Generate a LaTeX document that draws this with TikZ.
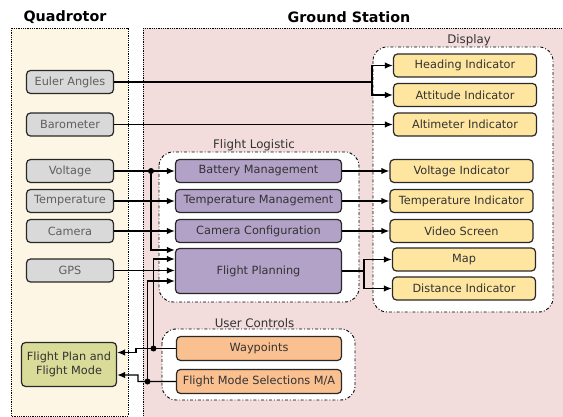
\documentclass[tikz,border=0pt]{standalone}
\usepackage{fontspec}
\setmainfont{DejaVu Sans}
\usetikzlibrary{arrows.meta,positioning,calc}

\definecolor{quadbg}{RGB}{253,246,229}
\definecolor{gsbg}{RGB}{242,220,220}
\definecolor{sensorgray}{RGB}{217,217,217}
\definecolor{logpurple}{RGB}{179,162,199}
\definecolor{dispyellow}{RGB}{255,230,160}
\definecolor{ctrlorange}{RGB}{250,192,144}
\definecolor{planolive}{RGB}{217,219,152}
\definecolor{edgegray}{RGB}{40,40,40}
\definecolor{textdark}{RGB}{50,50,50}
\definecolor{sensortext}{RGB}{95,95,95}

\begin{document}
\begin{tikzpicture}[x=1pt,y=-1pt,>={Latex[length=8pt,width=6.5pt]},
    box/.style={draw=edgegray,line width=1.2pt,rounded corners=4pt,minimum height=23pt,inner sep=2pt,font=\fontsize{11.3}{13.5}\selectfont,text=textdark},
    sensor/.style={box,fill=sensorgray,minimum width=87pt,text=sensortext},
    logistic/.style={box,fill=logpurple,minimum width=166pt},
    indicator/.style={box,fill=dispyellow,minimum width=143pt},
    control/.style={box,fill=ctrlorange,minimum width=165pt,minimum height=24pt},
    group/.style={draw=black,line width=0.9pt,dash dot,rounded corners=14pt,fill=white},
    grouplabel/.style={font=\fontsize{11.8}{13}\selectfont,text=textdark,anchor=south,inner sep=1pt},
    region/.style={draw=black,densely dotted,line width=0.8pt},
    title/.style={font=\bfseries\fontsize{14.3}{16}\selectfont,text=black},
    link/.style={->,line width=1.4pt},
    junction/.style={circle,fill=black,inner sep=0pt,minimum size=6pt}]
    \useasboundingbox (0,0) rectangle (563,417);
    % Regions
    \path[region,fill=quadbg] (11,28) rectangle (128,416);
    \path[region,fill=gsbg] (143,28) rectangle (570,425);
    \node[title] (quadtitle) at (65,17) {Quadrotor};
    \node[title] (gstitle) at (349,17) {Ground Station};
    % Groups
    \draw[group] (159,152) rectangle (359,302);
    \node[grouplabel] (logtitle) at (254,152) {Flight Logistic};
    \draw[group] (373,47) rectangle (553,312);
    \node[grouplabel] (disptitle) at (469,47) {Display};
    \draw[group] (162,329) rectangle (355,400);
    \node[grouplabel] (ctrltitle) at (254.5,329) {User Controls};
    % Quadrotor
    \node[sensor] (euler) at (70,82) {Euler Angles};
    \node[sensor] (baro) at (70,124.5) {Barometer};
    \node[sensor] (volt) at (70,171) {Voltage};
    \node[sensor,below=5.8pt of volt] (temp) {Temperature};
    \node[sensor,below=5.8pt of temp] (cam) {Camera};
    \node[sensor] (gps) at (70,270.5) {GPS};
    \node[box,fill=planolive,minimum width=95pt,minimum height=44pt,align=center] (fplan) at (69,364.5) {Flight Plan and\\Flight Mode};
    % Flight logistic
    \node[logistic] (battery) at (258.5,171) {Battery Management};
    \node[logistic,below=5.8pt of battery] (tempmgmt) {Temperature Management};
    \node[logistic,below=5.8pt of tempmgmt] (camcfg) {Camera Configuration};
    \node[logistic,minimum height=45pt] (planning) at (258.5,271) {Flight Planning};
    % Display
    \node[indicator] (heading) at (465,65.5) {Heading Indicator};
    \node[indicator,below=5.3pt of heading] (attitude) {Attitude Indicator};
    \node[indicator,below=5.3pt of attitude] (altimeter) {Altimeter Indicator};
    \node[indicator] (voltind) at (461.5,171) {Voltage Indicator};
    \node[indicator,below=5.8pt of voltind] (tempind) {Temperature Indicator};
    \node[indicator,below=5.8pt of tempind] (video) {Video Screen};
    \node[indicator] (map) at (464,259.5) {Map};
    \node[indicator,below=4.8pt of map] (distind) {Distance Indicator};
    % User controls
    \node[control] (waypoints) at (259,348.5) {Waypoints};
    \node[control,below=7.8pt of waypoints] (modesel) {Flight Mode Selections M/A};
    % Sensor links
    \coordinate (eulersplit) at (372,82);
    \draw[link] (euler.east) -- (eulersplit) |- (heading.west);
    \draw[link] (eulersplit) |- (attitude.west);
    \draw[link] (baro.east) -- (baro.east -| altimeter.west);
    \draw[link] (volt.east) -- (battery.west);
    \node[junction] (voltdot) at (151,171) {};
    \draw[link] (voltdot.center) |- ([yshift=21pt]planning.west);
    \draw[link] (temp.east) -- (tempmgmt.west);
    \draw[link] (cam.east) -- (camcfg.west);
    \draw[link] (gps.east) -- (gps.east -| planning.west);
    % Logistic to display
    \draw[link] (battery.east) -- (voltind.west);
    \draw[link] (tempmgmt.east) -- (tempind.west);
    \draw[link] (camcfg.east) -- (video.west);
    \coordinate (plansplit) at (364,271);
    \draw[link] (planning.east) -- (plansplit) |- (map.west);
    \draw[link] (plansplit) |- (distind.west);
    % User controls links
    \node[junction] (wpdot) at (153.5,348.5) {};
    \coordinate (wpbend) at (136,348.5);
    \draw[link] (waypoints.west) -- (wpbend) |- ([yshift=12pt]fplan.east);
    \draw[link] (wpdot.center) |- ([yshift=12pt]planning.west);
    \node[junction] (msdot) at (147.5,381.5) {};
    \coordinate (msbend) at (138,381.5);
    \draw[link] (modesel.west) -- (msbend) |- ([yshift=-10.5pt]fplan.east);
    \draw[link] (msdot.center) |- ([yshift=-10pt]planning.west);
\end{tikzpicture}
\end{document}
